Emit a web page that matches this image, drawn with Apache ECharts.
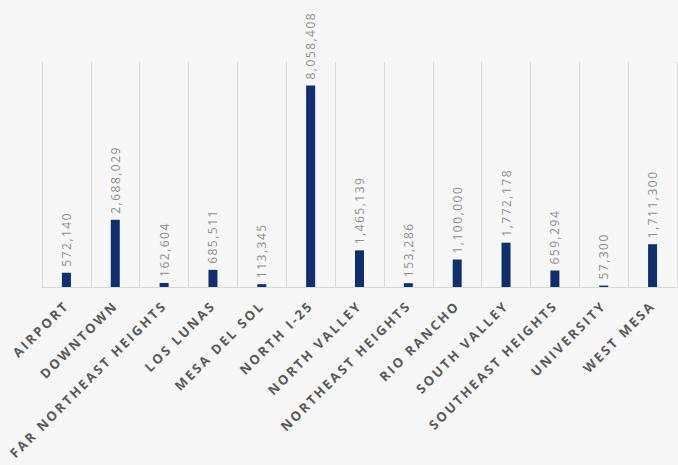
<!DOCTYPE html>
<html>
<head>
<meta charset="utf-8">
<script src="https://cdn.jsdelivr.net/npm/echarts@6/dist/echarts.min.js"></script>
<style>
  html, body { margin: 0; padding: 0; background: #f7f7f7; }
  #chart { width: 678px; height: 465px; }
  #chart svg text[text-anchor="end"] { letter-spacing: 2.4px; }
  #chart svg text[text-anchor="start"] { letter-spacing: 1.5px; }
</style>
</head>
<body>
<div id="chart"></div>
<script>
const categories = ['AIRPORT', 'DOWNTOWN', 'FAR NORTHEAST HEIGHTS', 'LOS LUNAS', 'MESA DEL SOL', 'NORTH I-25', 'NORTH VALLEY', 'NORTHEAST HEIGHTS', 'RIO RANCHO', 'SOUTH VALLEY', 'SOUTHEAST HEIGHTS', 'UNIVERSITY', 'WEST MESA'];
const values = [572140, 2688029, 162604, 685511, 113345, 8058408, 1465139, 153286, 1100000, 1772178, 659294, 57300, 1711300];
const yMax = 9000000;

const chart = echarts.init(document.getElementById('chart'), null, { renderer: 'svg' });
chart.setOption({
  backgroundColor: '#f7f7f7',
  animation: false,
  grid: { left: 42, right: 1, top: 62, bottom: 178 },
  xAxis: {
    type: 'category',
    data: categories,
    axisLine: { lineStyle: { color: '#d9d9d9', width: 1 } },
    axisTick: { show: false },
    splitLine: { show: true, lineStyle: { color: '#d9d9d9', width: 1 } },
    axisLabel: {
      interval: 0,
      rotate: 45,
      margin: 16,
      color: '#595959',
      fontFamily: 'Open Sans',
      fontWeight: 'bold',
      fontSize: 13
    }
  },
  yAxis: {
    type: 'value',
    min: 0,
    max: yMax,
    show: false,
    splitLine: { show: false }
  },
  series: [{
    type: 'bar',
    data: values,
    barWidth: 9,
    itemStyle: { color: '#0f2f6e' },
    label: {
      show: true,
      position: 'top',
      rotate: 90,
      align: 'left',
      verticalAlign: 'middle',
      distance: 6,
      color: '#8f8f8f',
      fontFamily: 'Open Sans',
      fontSize: 12,
      formatter: p => p.value.toLocaleString('en-US')
    }
  }]
});
</script>
</body>
</html>
